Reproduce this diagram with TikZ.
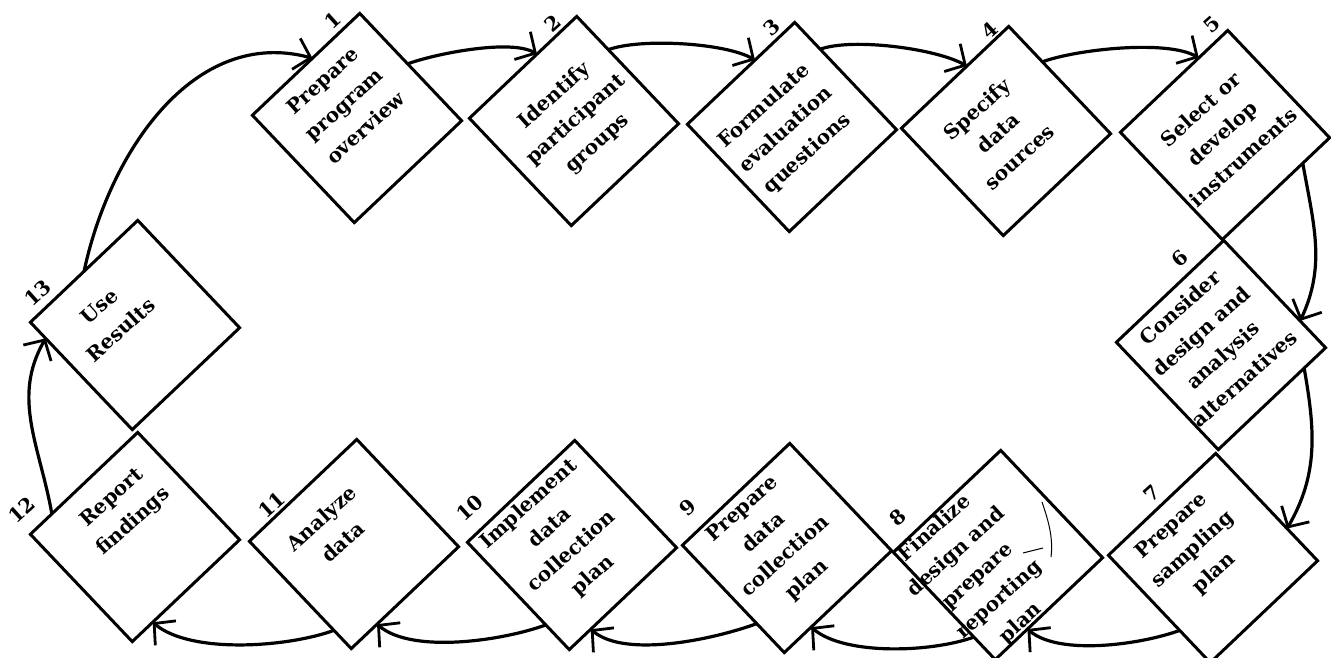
\documentclass[tikz,border=0pt]{standalone}
\usepackage{fontspec}
\newfontfamily\boxfont{DejaVu Serif}
\usetikzlibrary{arrows.meta,calc}
\tikzset{
  stepsq/.style={draw, line width=3pt, minimum width=148pt, minimum height=148pt,
    inner sep=0pt, outer sep=0pt, rotate=43.5},
  boxtxt/.style={font=\boxfont\bfseries\fontsize{20}{32}\selectfont, align=center, rotate=42, inner sep=0pt},
  numlbl/.style={font=\boxfont\bfseries\fontsize{20}{24}\selectfont, rotate=42, inner sep=0pt},
  flow/.style={line width=3.2pt, -{Straight Barb[length=15pt,width=32pt,line width=2.8pt]}},
}
\begin{document}
\begin{tikzpicture}[x=1pt,y=1pt]
\useasboundingbox (0,0) rectangle (1331,-657);
\clip (0,0) rectangle (1331,-657);
\fill[white] (0,0) rectangle (1331,-657);

% boxes
\node[stepsq] (b1)  at (357,-118) {};
\node[stepsq] (b2)  at (574,-121) {};
\node[stepsq] (b3)  at (792,-127) {};
\node[stepsq] (b4)  at (1006,-131) {};
\node[stepsq] (b5)  at (1225,-135) {};
\node[stepsq] (b6)  at (1221,-345) {};
\node[stepsq] (b7)  at (1213,-558) {};
\node[stepsq] (b8)  at (998,-555) {};
\node[stepsq] (b9)  at (787,-548) {};
\node[stepsq] (b10) at (572,-545) {};
\node[stepsq] (b11) at (354,-544) {};
\node[stepsq] (b12) at (135,-537) {};
\node[stepsq] (b13) at (135,-325) {};

% texts
\node[boxtxt] (t1)  at (344,-104) {Prepare\\program\\overview};
\node[boxtxt] (t2)  at (576,-120) {Identify\\participant\\groups};
\node[boxtxt] (t3)  at (786,-130) {Formulate\\evaluation\\questions};
\node[boxtxt] (t4)  at (998,-133) {Specify\\data\\sources};
\node[boxtxt] (t5)  at (1222,-133) {Select or\\develop\\instruments};
\node[boxtxt] (t6)  at (1212,-343) {Consider\\design and\\analysis\\alternatives};
\node[boxtxt] (t7)  at (1193,-550) {Prepare\\sampling\\plan};
\node[boxtxt] (t8)  at (978,-576) {Finalize\\design and\\prepare\\reporting\\plan};
\node[boxtxt] (t9)  at (775,-545) {Prepare\\data\\collection\\plan};
\node[boxtxt] (t10) at (561,-540) {Implement\\data\\collection\\plan};
\node[boxtxt] (t11) at (332,-530) {Analyze\\data};
\node[boxtxt] (t12) at (123,-510) {Report\\findings};
\node[boxtxt] (t13) at (110,-318) {Use\\Results};

% numbers
\node[numlbl] (n1)  at (333,-20) {1};
\node[numlbl] (n2)  at (553,-23) {2};
\node[numlbl] (n3)  at (772,-27) {3};
\node[numlbl] (n4)  at (990,-30) {4};
\node[numlbl] (n5)  at (1212,-25) {5};
\node[numlbl] (n6)  at (1180,-258) {6};
\node[numlbl] (n7)  at (1152,-493) {7};
\node[numlbl] (n8)  at (898,-517) {8};
\node[numlbl] (n9)  at (688,-507) {9};
\node[numlbl] (n10) at (470,-508) {10};
\node[numlbl] (n11) at (272,-505) {11};
\node[numlbl] (n12) at (22,-510) {12};
\node[numlbl] (n13) at (38,-293) {13};

% connectors
\draw[flow] ($(b13.north west)!0.5!(b13.north east)$) to[out=78,in=165] ($(b1.north west)!0.56!(b1.north east)$);
\draw[flow] ($(b1.north east)!0.47!(b1.south east)$) to[out=20,in=150,looseness=0.6] ($(b2.north west)!0.63!(b2.north east)$);
\draw[flow] ($(b2.north east)!0.31!(b2.south east)$) to[out=20,in=150,looseness=0.6] ($(b3.north west)!0.63!(b3.north east)$);
\draw[flow] ($(b3.north east)!0.25!(b3.south east)$) to[out=20,in=150,looseness=0.6] ($(b4.north west)!0.61!(b4.north east)$);
\draw[flow] ($(b4.north east)!0.33!(b4.south east)$) to[out=20,in=150,looseness=0.6] ($(b5.north west)!0.73!(b5.north east)$);
\draw[flow] ($(b5.south east)!0.25!(b5.south west)$) to[out=-80,in=65] ($(b6.north east)!0.75!(b6.south east)$);
\draw[flow] ($(b6.south east)!0.2!(b6.south west)$) to[out=-80,in=60] ($(b7.north east)!0.7!(b7.south east)$);
\draw[flow] ($(b7.north west)!0.7!(b7.south west)$) to[out=200,in=-40,looseness=0.7] ($(b8.south east)!0.7!(b8.south west)$);
\draw[flow] ($(b8.north west)!0.79!(b8.south west)$) to[out=200,in=-40,looseness=0.7] ($(b9.south east)!0.75!(b9.south west)$);
\draw[flow] ($(b9.north west)!0.73!(b9.south west)$) to[out=200,in=-40,looseness=0.7] ($(b10.south east)!0.8!(b10.south west)$);
\draw[flow] ($(b10.north west)!0.77!(b10.south west)$) to[out=200,in=-40,looseness=0.7] ($(b11.south east)!0.76!(b11.south west)$);
\draw[flow] ($(b11.north west)!0.83!(b11.south west)$) to[out=200,in=-40,looseness=0.7] ($(b12.south east)!0.81!(b12.south west)$);
\draw[flow] ($(b12.north west)!0.2!(b12.north east)$) to[out=100,in=-120] ($(b13.north west)!0.15!(b13.south west)$);

% insertion mark in box 8
\draw[line width=1pt] (1042,-502) .. controls (1050,-525) and (1053,-540) .. (1051,-557);
\draw[line width=1pt] (1023,-553) -- (1043,-548);
\end{tikzpicture}
\end{document}
